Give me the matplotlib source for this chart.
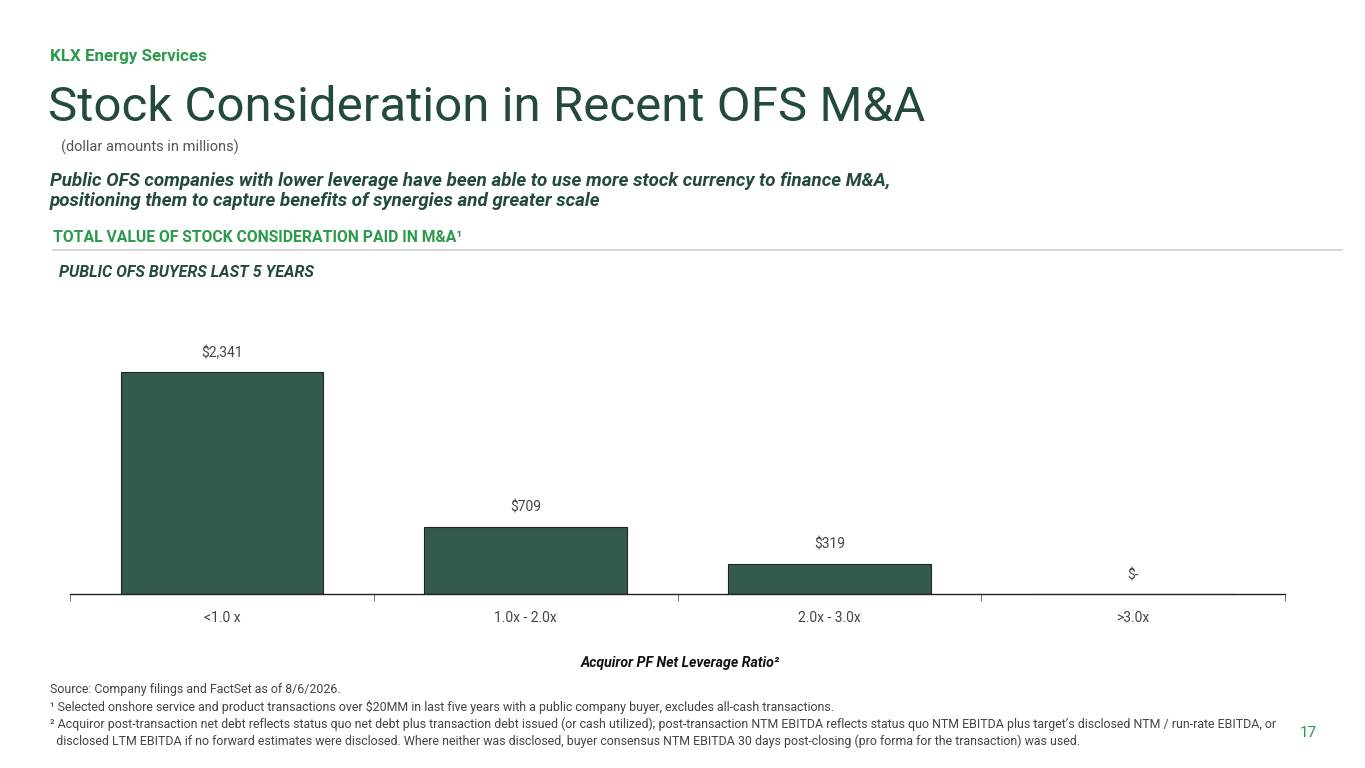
import numpy as np
import matplotlib.pyplot as plt

# datos del grafico
categorias = ['<1.0 x', '1.0x - 2.0x', '2.0x - 3.0x', '>3.0x']
valores = [2341, 709, 319, 0]
etiquetas = ['$2,341', '$709', '$319', '$-']

verde_oscuro = '#244a3c'
verde_barra = '#34594d'
verde_klx = '#2b9a4a'
gris = '#444444'

plt.rcParams['font.family'] = ['Roboto', 'DejaVu Sans']

fig = plt.figure(figsize=(13.65, 7.68), dpi=100)
W, H = 1365, 768

def fy(y):  # pixel desde arriba -> fraccion de figura
    return 1 - y / H

# encabezados
fig.text(50 / W, fy(57), 'KLX Energy Services', color=verde_klx, fontsize=12.2,
         fontweight='bold', va='center')
fig.text(48 / W, fy(108), 'Stock Consideration in Recent OFS M&A', color=verde_oscuro,
         fontsize=35.5, va='center')
fig.text(61 / W, fy(147), '(dollar amounts in millions)', color='#555555', fontsize=10.5, va='center')
fig.text(50 / W, fy(181), 'Public OFS companies with lower leverage have been able to use more stock currency to finance M&A,',
         color=verde_oscuro, fontsize=13.5, fontweight='bold', style='italic', va='center')
fig.text(50 / W, fy(201), 'positioning them to capture benefits of synergies and greater scale',
         color=verde_oscuro, fontsize=13.5, fontweight='bold', style='italic', va='center')
fig.text(53 / W, fy(238), 'TOTAL VALUE OF STOCK CONSIDERATION PAID IN M&A¹', color=verde_klx,
         fontsize=11.3, fontweight='bold', va='center')
fig.add_artist(plt.Line2D([53 / W, 1342 / W], [fy(250), fy(250)], color='#d0d0d0', lw=1.2))
fig.text(59 / W, fy(272), 'PUBLIC OFS BUYERS LAST 5 YEARS', color=verde_oscuro,
         fontsize=11.5, fontweight='bold', style='italic', va='center')

# grafico de barras
ax = fig.add_axes([70 / W, fy(594), (1285 - 70) / W, (594 - 300) / H])
x = np.arange(len(categorias))
barras = ax.bar(x, valores, width=0.667, color=verde_barra, edgecolor='#222222', linewidth=0.8)
for xi, v, et in zip(x, valores, etiquetas):
    ax.text(xi, v + 3100 * 0.04, et, ha='center', va='bottom', color=gris, fontsize=10)

ax.set_xlim(-0.5, len(categorias) - 0.5)
ax.set_ylim(0, 3100)
ax.set_xticks(x)
ax.set_xticklabels(categorias, color=gris, fontsize=10)
ax.set_xticks(np.arange(-0.5, len(categorias), 1), minor=True)
ax.tick_params(axis='x', which='major', length=0, pad=12)
ax.tick_params(axis='x', which='minor', length=5, color='#555555', direction='out')
ax.set_yticks([])
for s in ['top', 'right', 'left']:
    ax.spines[s].set_visible(False)
ax.spines['bottom'].set_color('#222222')
ax.spines['bottom'].set_linewidth(1)

fig.text(680 / W, fy(663), 'Acquiror PF Net Leverage Ratio²', color='#111111', fontsize=10.2,
         fontweight='bold', style='italic', ha='center', va='center')

# notas
notas = [
    'Source: Company filings and FactSet as of 8/6/2026.',
    '¹ Selected onshore service and product transactions over $20MM in last five years with a public company buyer, excludes all-cash transactions.',
    '² Acquiror post-transaction net debt reflects status quo net debt plus transaction debt issued (or cash utilized); post-transaction NTM EBITDA reflects status quo NTM EBITDA plus target\u2019s disclosed NTM / run-rate EBITDA, or',
    '  disclosed LTM EBITDA if no forward estimates were disclosed. Where neither was disclosed, buyer consensus NTM EBITDA 30 days post-closing (pro forma for the transaction) was used.',
]
for i, n in enumerate(notas):
    fig.text(50 / W, fy(690 + 17 * i), n, color='#444444', fontsize=8.9, va='center')

fig.text(1308 / W, fy(733), '17', color=verde_klx, fontsize=11, ha='center', va='center')

fig.savefig('out.png', dpi=100, facecolor='white')
